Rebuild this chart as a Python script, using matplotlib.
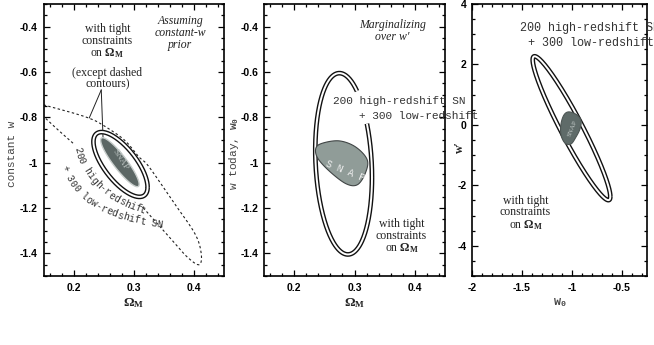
import numpy as np
import matplotlib
matplotlib.use("Agg")
import matplotlib.pyplot as plt
from matplotlib.ticker import MultipleLocator, FuncFormatter

W, H = 654, 345

SERIF = ["Liberation Serif", "DejaVu Serif"]
MONO = ["Liberation Mono", "DejaVu Sans Mono"]
NARROW = ["Liberation Sans Narrow", "Liberation Sans", "DejaVu Sans"]

plt.rcParams["font.family"] = NARROW
plt.rcParams["font.weight"] = "bold"
plt.rcParams["mathtext.fontset"] = "custom"
plt.rcParams["mathtext.rm"] = "Liberation Serif"
plt.rcParams["mathtext.it"] = "Liberation Serif:italic"
plt.rcParams["mathtext.tt"] = "Liberation Mono"

# ---- panel 1: constant w vs Omega_M ----
# dashed contour (no Omega_M prior), upper arc round the tip, then the piece left of the label
wide_x = [0.150, 0.193, 0.226, 0.248, 0.284, 0.308, 0.325, 0.363, 0.401, 0.412, 0.409, 0.390, 0.363, 0.316]
wide_y = [-0.745, -0.776, -0.804, -0.833, -0.899, -0.973, -1.017, -1.163, -1.310, -1.398, -1.450, -1.419, -1.340, -1.200]
wide_tail_x = [0.199, 0.174, 0.150]
wide_tail_y = [-0.914, -0.855, -0.796]
# error ellipses: centre, 1-sigma half widths, correlation
sn_center_1 = (0.278, -1.008)
sn_sigma_1 = (0.045, 0.143)
sn_rho_1 = -0.70
snap_center_1 = (0.277, -0.998)
snap_sigma_1 = (0.032, 0.108)
snap_rho_1 = -0.90

# ---- panel 2: w today vs Omega_M, marginalized over w' ----
sn_center_2 = (0.282, -1.005)
sn_sigma_2 = (0.047, 0.400)
sn_rho_2 = -0.15
sn_gap_2 = (-0.826, -0.685)   # open part of the contour, behind the label
snap_x_2 = [0.236, 0.247, 0.275, 0.302, 0.321, 0.318, 0.305, 0.286, 0.259, 0.239]
snap_y_2 = [-0.936, -0.914, -0.904, -0.931, -0.987, -1.046, -1.097, -1.093, -1.039, -0.980]

# ---- panel 3: w' vs w0 ----
sn_center_3 = (-1.005, -0.11)
sn_sigma_3 = (0.388, 2.38)
sn_rho_3 = -0.95
snap_x_3 = [-1.03, -0.95, -0.91, -0.92, -0.96, -1.01, -1.07, -1.11, -1.11, -1.08]
snap_y_3 = [0.43, 0.33, 0.13, -0.13, -0.40, -0.63, -0.60, -0.33, 0.03, 0.33]


def ellipse(center, sigma, rho, n=600):
    t = np.linspace(0, 2 * np.pi, n)
    x = center[0] + sigma[0] * np.cos(t)
    y = center[1] + sigma[1] * (rho * np.cos(t) + np.sqrt(1 - rho ** 2) * np.sin(t))
    return x, y


def smooth(xs, ys, closed=True, n=24):
    # uniform Catmull-Rom through the outline points
    P = np.column_stack([xs, ys]).astype(float)
    if closed:
        pts = np.vstack([P[-1], P, P[0], P[1]])
    else:
        pts = np.vstack([2 * P[0] - P[1], P, 2 * P[-1] - P[-2]])
    t = np.linspace(0, 1, n, endpoint=False)[:, None]
    out = []
    for i in range(1, len(pts) - 2):
        p0, p1, p2, p3 = pts[i - 1:i + 3]
        out.append(0.5 * (2 * p1 + (-p0 + p2) * t + (2 * p0 - 5 * p1 + 4 * p2 - p3) * t ** 2
                          + (-p0 + 3 * p1 - 3 * p2 + p3) * t ** 3))
    out.append(pts[-2][None])
    c = np.vstack(out)
    return c[:, 0], c[:, 1]


def double_line(ax, x, y, z=3):
    ax.plot(x, y, color="#111111", lw=3.4, zorder=z, solid_capstyle="butt")
    ax.plot(x, y, color="white", lw=1.4, zorder=z + 0.1, solid_capstyle="butt")


def setup(ax, xlim, ylim, xmaj, xmin, ymaj, ymin):
    ax.set_xlim(xlim)
    ax.set_ylim(ylim)
    ax.xaxis.set_major_locator(MultipleLocator(xmaj))
    ax.xaxis.set_minor_locator(MultipleLocator(xmin))
    ax.yaxis.set_major_locator(MultipleLocator(ymaj))
    ax.yaxis.set_minor_locator(MultipleLocator(ymin))
    fmt = FuncFormatter(lambda v, p: f"{v:g}")
    ax.xaxis.set_major_formatter(fmt)
    ax.yaxis.set_major_formatter(fmt)
    ax.tick_params(which="both", direction="in", top=True, right=True, width=0.9, labelsize=7.5)
    ax.tick_params(which="major", length=4)
    ax.tick_params(which="minor", length=2.2)
    ax.tick_params(axis="x", pad=5)
    ax.tick_params(axis="y", pad=4)
    for s in ax.spines.values():
        s.set_linewidth(1.2)


def text_on_curve(fig, s, p0, p1, p2, size, color="#333333"):
    # places monospace characters one by one along a quadratic Bezier (image pixels)
    p0, p1, p2 = map(np.array, (p0, p1, p2))
    t = np.linspace(0, 1, 500)[:, None]
    pts = (1 - t) ** 2 * p0 + 2 * (1 - t) * t * p1 + t ** 2 * p2
    arc = np.concatenate([[0], np.cumsum(np.hypot(*np.diff(pts, axis=0).T))])
    adv = 0.6 * size * fig.dpi / 72
    for i, ch in enumerate(s):
        if ch == " ":
            continue
        k = min(np.searchsorted(arc, (i + 0.5) * adv), len(pts) - 2)
        x, y = pts[k]
        dx, dy = pts[k + 1] - pts[k]
        ang = -np.degrees(np.arctan2(dy, dx))
        fig.text(x / W, 1 - y / H, ch, rotation=ang, rotation_mode="anchor", ha="center",
                 va="center", fontsize=size, family=MONO, weight="normal", color=color)


fig = plt.figure(figsize=(W / 100, H / 100), dpi=100)
ax1 = fig.add_axes([43.5 / W, 69 / H, 180.5 / W, 272 / H])
ax2 = fig.add_axes([264 / W, 69 / H, 181 / W, 272 / H])
ax3 = fig.add_axes([472 / W, 69 / H, 175 / W, 272 / H])
ax3.patch.set_alpha(0)

txt = dict(family=SERIF, weight="normal", color="#222222", ha="center", va="center")

# ---------------- panel 1 ----------------
setup(ax1, (0.15, 0.45), (-1.5, -0.3), 0.1, 0.02, 0.2, 0.05)
dash = dict(color="#222222", lw=0.8, linestyle=(0, (2.2, 2.2)), zorder=1)
x, y = smooth(wide_x, wide_y, closed=False)
ax1.plot(x, y, **dash)
x, y = smooth(wide_tail_x, wide_tail_y, closed=False)
ax1.plot(x, y, **dash)

x, y = ellipse(sn_center_1, sn_sigma_1, sn_rho_1)
ax1.fill(x, y, color="white", zorder=2)
double_line(ax1, x, y)
x, y = ellipse(snap_center_1, snap_sigma_1, snap_rho_1)
ax1.fill(x, y, facecolor="#5c6765", edgecolor="#c8cecc", lw=1.0, zorder=4)
ax1.text(snap_center_1[0], snap_center_1[1] + 0.01, "SNAP", rotation=-58, fontsize=6.5,
         **{**txt, "color": "#b9c1bf"}, zorder=5)

ax1.text(0.256, -0.467, "with tight\nconstraints\non $\\Omega_{\\rm M}$", fontsize=8.5, linespacing=0.95, **txt)
ax1.text(0.256, -0.628, "(except dashed\ncontours)", fontsize=8.5, linespacing=0.95, **txt)
ax1.text(0.377, -0.43, "Assuming\nconstant-w\nprior", fontsize=8.5, linespacing=1.0,
         style="italic", **txt)
for end in [(0.226, -0.803), (0.249, -0.895)]:
    ax1.annotate("", xy=end, xytext=(0.246, -0.679),
                 arrowprops=dict(arrowstyle="-", color="#222222", lw=0.7, shrinkA=0, shrinkB=0))

text_on_curve(fig, "200 high-redshift", (77, 147), (88, 192), (142, 210), 7)
text_on_curve(fig, "+ 300 low-redshift SN", (64, 165), (78, 214), (160, 224), 7)

ax1.text(0.5, -27 / 272, "$\\Omega_{\\rm M}$", transform=ax1.transAxes, fontsize=9.5, **txt)
ax1.text(-0.175, 0.449, "constant w", transform=ax1.transAxes, rotation=90, fontsize=8,
         family=MONO, weight="normal", color="#444444", ha="center", va="center")

# ---------------- panel 2 ----------------
setup(ax2, (0.15, 0.45), (-1.5, -0.3), 0.1, 0.02, 0.2, 0.05)
x, y = ellipse(sn_center_2, sn_sigma_2, sn_rho_2)
y = np.where((x > sn_center_2[0]) & (y > sn_gap_2[0]) & (y < sn_gap_2[1]), np.nan, y)
double_line(ax2, x, y)
x, y = smooth(snap_x_2, snap_y_2)
ax2.fill(x, y, facecolor="#909c98", edgecolor="#404545", lw=0.8, zorder=4)
ax2.text(0.284, -1.036, "S N A P", rotation=-22, fontsize=7, family=MONO, weight="normal",
         color="#eeeeee", ha="center", va="center", zorder=5)

ax2.text(0.363, -0.419, "Marginalizing\nover w\u2032", fontsize=8.5, linespacing=0.95,
         style="italic", **txt)
ax2.text(0.378, -1.326, "with tight\nconstraints\non $\\Omega_{\\rm M}$", fontsize=8.5, linespacing=0.95, **txt)
ax2.text(0.2636, -0.727, "200 high-redshift SN", fontsize=8, family=MONO, weight="normal",
         color="#333333", ha="left", va="center", zorder=6)
ax2.text(0.308, -0.793, "+ 300 low-redshift", fontsize=8, family=MONO, weight="normal",
         color="#333333", ha="left", va="center", zorder=6)

ax2.text(0.5, -27 / 272, "$\\Omega_{\\rm M}$", transform=ax2.transAxes, fontsize=9.5, **txt)
ax2.text(-0.163, 0.449, "w today, $\\mathtt{w}_{\\mathtt{0}}$", transform=ax2.transAxes,
         rotation=90, fontsize=8, family=MONO, weight="normal", color="#444444",
         ha="center", va="center")

# ---------------- panel 3 ----------------
setup(ax3, (-2, -0.25), (-5, 4), 0.5, 0.1, 2, 0.5)
x, y = ellipse(sn_center_3, sn_sigma_3, sn_rho_3)
double_line(ax3, x, y)
x, y = smooth(snap_x_3, snap_y_3)
ax3.fill(x, y, facecolor="#5f6b69", edgecolor="#4d5654", lw=0.8, zorder=4)
ax3.text(-1.0, -0.1, "SNAP", rotation=68, fontsize=5, **{**txt, "color": "#c3cac8"}, zorder=5)

ax3.text(-1.516, 3.19, "200 high-redshift SN", fontsize=8.5, family=MONO, weight="normal",
         color="#333333", ha="left", va="center")
ax3.text(-1.442, 2.72, "+ 300 low-redshift", fontsize=8.5, family=MONO, weight="normal",
         color="#333333", ha="left", va="center")
ax3.text(-1.465, -2.92, "with tight\nconstraints\non $\\Omega_{\\rm M}$", fontsize=8.5, linespacing=0.95, **txt)

ax3.text(0.5, -27 / 272, "$\\mathtt{w}_{\\mathtt{0}}$", transform=ax3.transAxes, fontsize=8.5,
         **{**txt, "color": "#444444"})
ax3.text(-0.069, 0.474, "w\u2032", transform=ax3.transAxes, rotation=90, fontsize=8.5,
         family=SERIF, weight="bold", color="#222222", ha="center", va="center")

fig.savefig("out.png", dpi=100)
